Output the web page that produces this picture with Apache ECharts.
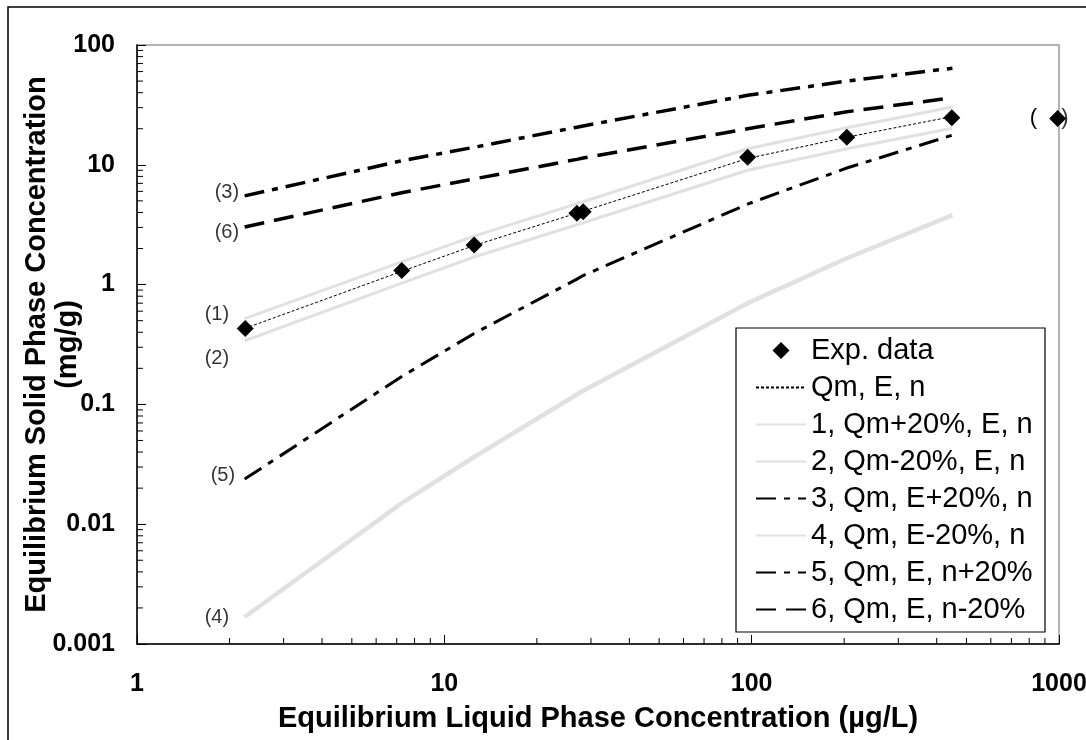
<!DOCTYPE html>
<html>
<head>
    <meta charset="UTF-8">
    <script src="https://cdn.jsdelivr.net/npm/echarts@6/dist/echarts.min.js"></script>
    <title>Isotherm sensitivity</title>
    <style>
        html, body { margin: 0; padding: 0; background: #fff; }
        #chart { width: 1086px; height: 740px; }
    </style>
</head>
<body>
    <div id="chart"></div>
<script>
    // x values (µg/L) where the model lines were evaluated
    const xs = [2.24, 7.27, 12.5, 27.0, 28.3, 97, 204, 450];

    // experimental points
    const expX = [2.25, 7.27, 12.5, 27.0, 28.3, 97, 204, 448];
    const expY = [0.43, 1.31, 2.14, 3.95, 4.05, 11.55, 16.96, 24.7];

    // model lines
    const base  = [0.43, 1.29, 2.12, 3.95, 4.1, 11.3, 17.0, 25.3];
    const line1 = [0.52, 1.55, 2.54, 4.74, 4.92, 13.6, 20.4, 30.4];
    const line2 = [0.34, 1.03, 1.70, 3.16, 3.28, 9.0, 13.6, 20.2];
    const line3 = [5.5, 10.8, 14.0, 20.6, 21.1, 38.0, 50.0, 64.0];
    const line4 = [0.00168, 0.0150, 0.0364, 0.121, 0.130, 0.70, 1.66, 3.8];
    const line5 = [0.0238, 0.171, 0.391, 1.11, 1.19, 4.7, 9.4, 17.7];
    const line6 = [3.03, 5.85, 7.62, 11.1, 11.4, 20.0, 27.7, 36.3];

    // lone point at the right edge
    const outX = [990];
    const outY = [24.4];

    const names = ['Exp. data', 'Qm, E, n', '1, Qm+20%, E, n', '2, Qm-20%, E, n',
        '3, Qm, E+20%, n', '4, Qm, E-20%, n', '5, Qm, E, n+20%', '6, Qm, E, n-20%'];

    // minor tick values for the log axes
    const xMinor = [2, 3, 4, 5, 6, 7, 8, 9, 20, 30, 40, 50, 60, 70, 80, 90, 200, 300, 400, 500, 600, 700, 800, 900];
    const yMinor = [0.002, 0.003, 0.004, 0.005, 0.006, 0.007, 0.008, 0.009,
        0.02, 0.03, 0.04, 0.05, 0.06, 0.07, 0.08, 0.09,
        0.2, 0.3, 0.4, 0.5, 0.6, 0.7, 0.8, 0.9,
        2, 3, 4, 5, 6, 7, 8, 9, 20, 30, 40, 50, 60, 70, 80, 90];

    const FONT = 'Liberation Sans, Arial, sans-serif';

    function pairs(x, y) { return x.map((v, i) => [v, y[i]]); }

    function lineSeries(name, y, color, width, dash) {
        return {
            name: name, type: 'line', data: pairs(xs, y), symbol: 'none',
            lineStyle: { color: color, width: width, type: dash },
            itemStyle: { color: color },
            clip: false, silent: true, animation: false
        };
    }

    function fmt(v) {
        return v >= 1 ? String(Math.round(v)) : String(+v.toPrecision(1));
    }

    // legend entries: a square diamond for the points, no marker for the lines
    const legendData = names.map((n, i) => i === 0
        ? { name: n, icon: 'path://M10,0L20,10L10,20L0,10Z' }
        : { name: n, itemStyle: { color: 'rgba(0,0,0,0)', borderWidth: 0, opacity: 0 } });

    var chart = echarts.init(document.getElementById('chart'), null, { renderer: 'canvas' });

    var option = {
        backgroundColor: '#fff',
        animation: false,
        textStyle: { fontFamily: FONT },
        graphic: [{
            type: 'rect', shape: { x: 8, y: 7, width: 1100, height: 760 },
            style: { fill: 'none', stroke: '#000', lineWidth: 1.5 }, silent: true
        }, {
            // legend frame
            type: 'rect', shape: { x: 736, y: 328, width: 309, height: 304 },
            style: { fill: '#fff', stroke: '#000', lineWidth: 1.2 }, silent: true, z: 3
        }],
        grid: {
            left: 137, right: 27, top: 45, bottom: 96,
            outerBoundsMode: 'none', containLabel: false,
            show: true, borderColor: '#9a9a9a', borderWidth: 1.5, backgroundColor: '#fff'
        },
        legend: {
            orient: 'vertical', left: 736, top: 328,
            padding: [8, 4, 9, 19],
            borderWidth: 0, backgroundColor: 'transparent',
            itemWidth: 50, itemHeight: 17, itemGap: 8,
            symbolKeepAspect: true,
            selectedMode: false,
            z: 4,
            textStyle: { fontFamily: FONT, fontSize: 29, color: '#000' },
            data: legendData
        },
        xAxis: {
            type: 'log', logBase: 10, min: 1, max: 1000,
            name: 'Equilibrium Liquid Phase Concentration (µg/L)',
            nameLocation: 'middle', nameGap: 60, nameMoveOverlap: false,
            nameTextStyle: { fontFamily: FONT, fontSize: 29, fontWeight: 'bold', color: '#000' },
            axisLine: { lineStyle: { color: '#000', width: 1.5 } },
            axisTick: { inside: true, length: 9, lineStyle: { color: '#000' } },
            axisLabel: { margin: 28, fontSize: 25, fontWeight: 'bold', color: '#000', fontFamily: FONT, formatter: fmt },
            splitLine: { show: false }
        },
        yAxis: {
            type: 'log', logBase: 10, min: 0.001, max: 100,
            name: 'Equilibrium Solid Phase Concentration\n(mg/g)',
            nameLocation: 'middle', nameGap: 54, nameMoveOverlap: false,
            nameTextStyle: { fontFamily: FONT, fontSize: 29, fontWeight: 'bold', color: '#000', lineHeight: 31 },
            axisLine: { lineStyle: { color: '#000', width: 1.5 } },
            axisTick: { inside: true, length: 9, lineStyle: { color: '#000' } },
            axisLabel: { margin: 22, fontSize: 25, fontWeight: 'bold', color: '#000', fontFamily: FONT, formatter: fmt },
            splitLine: { show: false }
        },
        series: [
            lineSeries(names[2], line1, '#e1e1e1', 3, 'solid'),
            lineSeries(names[3], line2, '#e1e1e1', 3, 'solid'),
            lineSeries(names[5], line4, '#e1e1e1', 4.5, 'solid'),
            lineSeries(names[4], line3, '#000', 3.5, [20, 8, 6, 8]),
            lineSeries(names[6], line5, '#000', 3, [20, 8, 6, 8]),
            lineSeries(names[7], line6, '#000', 3.5, [20, 10]),
            lineSeries(names[1], base, '#000', 1, [3, 2]),
            {
                name: names[0], type: 'scatter', data: pairs(expX, expY),
                symbol: 'diamond', symbolSize: 17,
                itemStyle: { color: '#000', opacity: 1 },
                clip: false, z: 5
            },
            {
                name: 'edge', type: 'scatter', data: pairs(outX, outY),
                symbol: 'diamond', symbolSize: 17, itemStyle: { color: '#000', opacity: 1 },
                clip: false, z: 5,
                label: { show: true, position: 'left', distance: 12, formatter: '(', fontSize: 22, color: '#000', fontFamily: FONT }
            },
            {
                name: 'edge2', type: 'scatter', data: pairs(outX, outY),
                symbol: 'circle', symbolSize: 1, itemStyle: { color: 'rgba(0,0,0,0)' },
                clip: false, z: 6,
                label: { show: true, position: 'right', distance: 3, formatter: ')', fontSize: 22, color: '#000', fontFamily: FONT }
            },
            {
                name: 'tags', type: 'scatter', symbol: 'circle', symbolSize: 1,
                itemStyle: { color: 'rgba(0,0,0,0)' }, clip: false, silent: true,
                label: { show: true, position: 'left', fontSize: 20, color: '#000', fontFamily: FONT },
                data: [
                    { value: [xs[0], line3[0]], label: { formatter: '(3)', distance: 5, offset: [0, -3] } },
                    { value: [xs[0], line6[0]], label: { formatter: '(6)', distance: 5, offset: [0, 6] } },
                    { value: [xs[0], line1[0]], label: { formatter: '(1)', distance: 15, offset: [0, -4] } },
                    { value: [xs[0], line2[0]], label: { formatter: '(2)', distance: 15, offset: [0, 18] } },
                    { value: [xs[0], line5[0]], label: { formatter: '(5)', distance: 9, offset: [0, -4] } },
                    { value: [xs[0], line4[0]], label: { formatter: '(4)', distance: 15, offset: [0, 0] } }
                ]
            },
            {
                name: 'xminor', type: 'custom', silent: true, clip: false,
                data: xMinor.map(v => [v, 0.001]),
                renderItem: function (params, api) {
                    var p = api.coord([api.value(0), api.value(1)]);
                    return { type: 'line', shape: { x1: p[0], y1: p[1], x2: p[0], y2: p[1] - 6 }, style: { stroke: '#000', lineWidth: 1 } };
                }
            },
            {
                name: 'yminor', type: 'custom', silent: true, clip: false,
                data: yMinor.map(v => [1, v]),
                renderItem: function (params, api) {
                    var p = api.coord([api.value(0), api.value(1)]);
                    return { type: 'line', shape: { x1: p[0], y1: p[1], x2: p[0] + 6, y2: p[1] }, style: { stroke: '#000', lineWidth: 1 } };
                }
            }
        ]
    };

    chart.setOption(option);
</script>
</body>
</html>
